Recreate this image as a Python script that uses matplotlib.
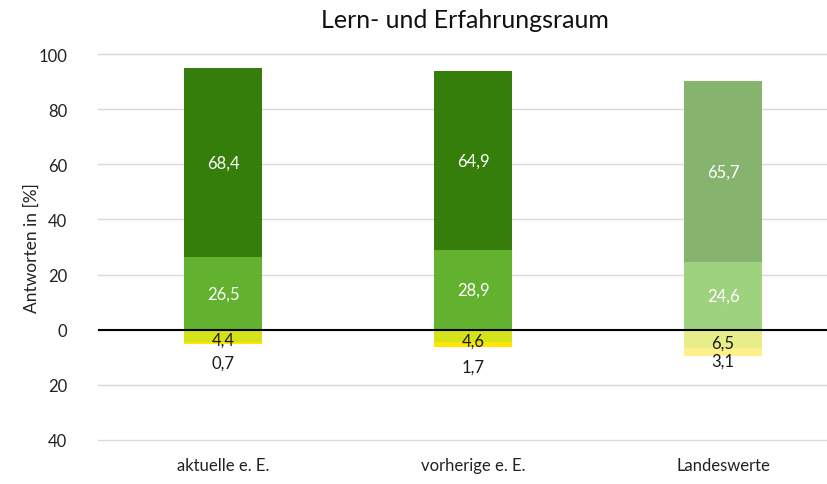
import matplotlib.pyplot as plt
import numpy as np

plt.rcParams['font.family'] = ['Lato', 'DejaVu Sans']

# data
categories = ["aktuelle e. E.", "vorherige e. E.", "Landeswerte"]
pos_low = [26.5, 28.9, 24.6]      # zustimmend
pos_high = [68.4, 64.9, 65.7]     # voll zustimmend
neg_low = [4.4, 4.6, 6.5]         # ablehnend
neg_high = [0.7, 1.7, 3.1]        # voll ablehnend

# colours: first two bars school, last bar state reference (lighter)
c_pos_low = ["#63b22f", "#63b22f", "#9fd27f"]
c_pos_high = ["#357e0b", "#357e0b", "#86b46e"]
c_neg_low = ["#d4e21c", "#d4e21c", "#e6ee8a"]
c_neg_high = ["#ffe600", "#ffe600", "#fff08c"]

# extra downward shift (points) of the small outer labels
outer_shift = [-14, -16, -6]

x = np.arange(len(categories))
w = 0.31

fig = plt.figure(figsize=(8.27, 4.85), dpi=100)
ax = fig.add_axes([98 / 827, 1 - 441 / 485, 750 / 827, (441 - 55) / 485])

pl = np.array(pos_low)
ph = np.array(pos_high)
nl = np.array(neg_low)
nh = np.array(neg_high)

ax.bar(x, pl, w, color=c_pos_low, zorder=2)
ax.bar(x, ph, w, bottom=pl, color=c_pos_high, zorder=2)
ax.bar(x, -nl, w, color=c_neg_low, zorder=2)
ax.bar(x, -nh, w, bottom=-nl, color=c_neg_high, zorder=2)

fmt = lambda v: f"{v:.1f}".replace(".", ",")
for i in range(len(categories)):
    ax.text(x[i], pl[i] / 2, fmt(pl[i]), ha="center", va="center",
            color="white", fontsize=12, zorder=3)
    ax.text(x[i], pl[i] + ph[i] / 2, fmt(ph[i]), ha="center", va="center",
            color="white", fontsize=12, zorder=3)
    ax.annotate(fmt(nl[i]), (x[i], -nl[i] / 2), xytext=(0, -3),
                textcoords="offset points", ha="center", va="center",
                color="#1a1a1a", fontsize=12, zorder=3)
    ax.annotate(fmt(nh[i]), (x[i], -nl[i] - nh[i] / 2),
                xytext=(0, outer_shift[i]), textcoords="offset points",
                ha="center", va="center", color="#1a1a1a", fontsize=12, zorder=3)

ax.axhline(0, color="black", linewidth=1.5, zorder=4)

ax.set_xlim(-0.5, 2.5)
ax.set_ylim(-40, 100)
yt = np.arange(-40, 101, 20)
ax.set_yticks(yt)
ax.set_yticklabels([str(abs(v)) for v in yt])
ax.yaxis.grid(True, color="#d9d9d9", linewidth=1, zorder=0)
ax.set_axisbelow(True)
for gl in ax.get_ygridlines():
    gl.set_clip_on(False)
ax.set_xticks(x)
ax.set_xticklabels(categories)
ax.tick_params(axis="both", length=0, labelsize=12, colors="#222222")
ax.tick_params(axis="y", pad=22)
ax.tick_params(axis="x", pad=12)
for s in ax.spines.values():
    s.set_visible(False)

ax.set_ylabel("Antworten in [%]", fontsize=12.5, color="#222222")
ax.yaxis.set_label_coords(-58 / 750, 0.5)

fig.text(465 / 827, 1 - 21 / 485, "Lern- und Erfahrungsraum", ha="center",
         va="center", fontsize=18, color="#111111")

fig.savefig("out.png", dpi=100)
